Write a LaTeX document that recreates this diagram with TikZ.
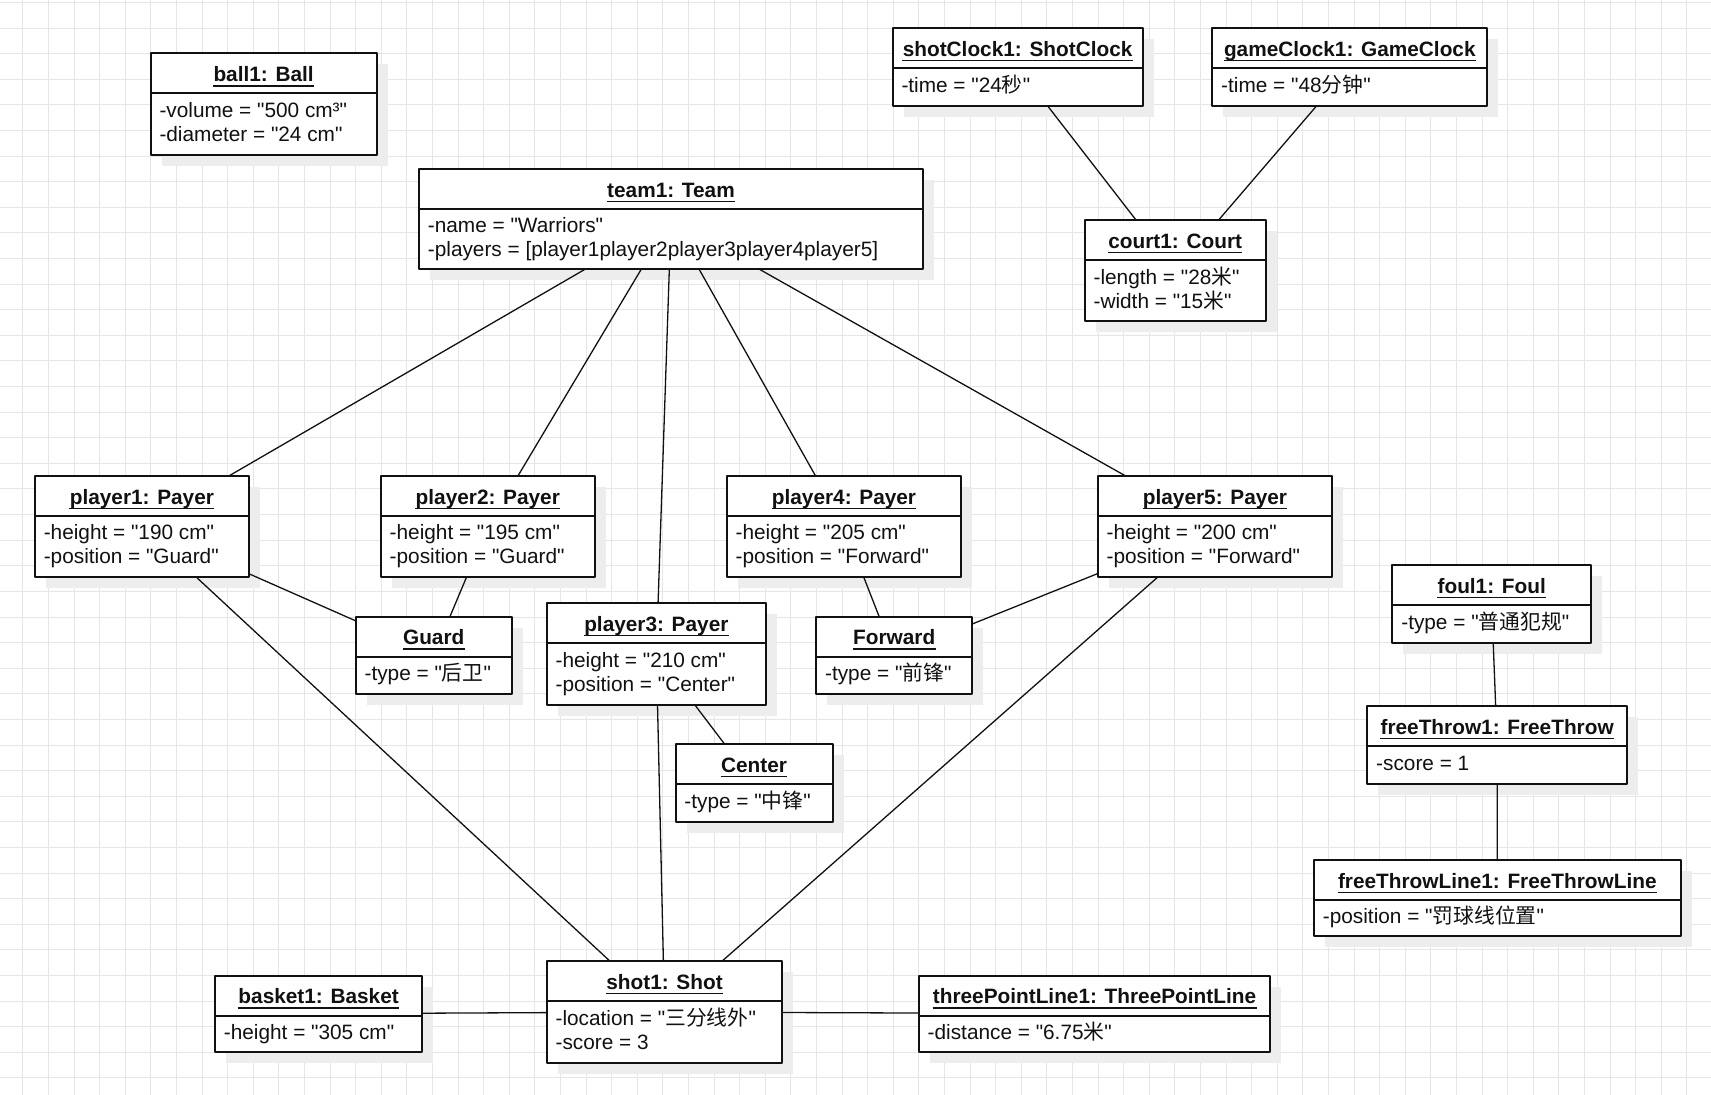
\documentclass[tikz,border=0pt]{standalone}
\usepackage{fontspec}
\setmainfont{Liberation Sans}[Ligatures=TeXOff]
\newfontfamily\cjk{Noto Sans CJK SC}
\usepackage{tikz}
\definecolor{ink}{HTML}{111111}
\definecolor{gridc}{HTML}{E6E6E6}
\definecolor{shadowc}{HTML}{EDEDED}
\tikzset{fig/.style={line join=round,x=0.5pt,y=-0.5pt},
  objbox/.style={draw=ink,fill=white,line width=1pt,inner sep=0pt,outer sep=0pt,anchor=north west},
  ttl/.style={font=\fontsize{10.4}{12}\selectfont\bfseries,text=ink,inner sep=0pt,anchor=base},
  att/.style={font=\fontsize{10.4}{12}\selectfont,text=ink,inner sep=0pt,anchor=base west},
  link/.style={draw=ink,line width=0.65pt},
  gridline/.style={gridc,line width=0.5pt}}
\newcommand{\umlobj}[8]{%
  \fill[shadowc] (#2+11,#3+11) rectangle ++(#4,#6);
  \node[objbox,minimum width=#4*0.5pt,minimum height=#6*0.5pt] (#1) at (#2,#3) {};
  \draw[ink,line width=1pt] (#1.north west) ++(0,#5) -- ++(#4,0);
  \path (#1.north) ++(0,28.4) node[ttl] (#1-t) {#7};
  \draw[ink,line width=0.65pt] ([yshift=-2pt]#1-t.base west) -- ([yshift=-2pt]#1-t.base east);
  \foreach \aline [count=\i] in {#8}
    \path (#1.north west) ++(8.5,{#5+24*\i}) node[att] {\aline};}

\begin{document}
\begin{tikzpicture}[fig]
  \fill[white] (0,0) rectangle (1711,1095);
  \useasboundingbox (0,0) rectangle (1711,1095);
  \foreach \gx in {0,...,65} \draw[gridline] ({22.8+25.6*\gx},0) -- ++(0,1095);
  \foreach \gy in {0,...,42} \draw[gridline] (0,{2.6+25.6*\gy}) -- ++(1711,0);

  \umlobj{ball1}{150.6}{53.5}{226}{40}{101.5}{ball1: Ball}{-volume = "500 cm³",-diameter = "24 cm"}
  \umlobj{team1}{419}{169}{504}{40}{100.5}{team1: Team}{-name = "Warriors",-players = [player1player2player3player4player5]}
  \umlobj{shotclock1}{892.6}{28.4}{250}{40}{77.5}{shotClock1: ShotClock}{-time = "24{\cjk 秒}"}
  \umlobj{gameclock1}{1212.3}{28.4}{275}{40}{77.5}{gameClock1: GameClock}{-time = "48{\cjk 分钟}"}
  \umlobj{court1}{1084.7}{220.4}{181}{40}{100.5}{court1: Court}{-length = "28{\cjk 米}",-width = "15{\cjk 米}"}
  \umlobj{player1}{34.9}{475.8}{214}{40}{101.5}{player1: Payer}{-height = "190 cm",-position = "Guard"}
  \umlobj{player2}{380.8}{475.8}{214}{40}{101.5}{player2: Payer}{-height = "195 cm",-position = "Guard"}
  \umlobj{player4}{726.7}{475.8}{234.6}{40}{101.5}{player4: Payer}{-height = "205 cm",-position = "Forward"}
  \umlobj{player5}{1097.7}{475.8}{234.6}{40}{101.5}{player5: Payer}{-height = "200 cm",-position = "Forward"}
  \umlobj{guardpos}{355.7}{616.5}{156}{40}{77.5}{Guard}{-type = "{\cjk 后卫}"}
  \umlobj{player3}{546.7}{603.4}{219.3}{40}{101.5}{player3: Payer}{-height = "210 cm",-position = "Center"}
  \umlobj{forwardpos}{816.2}{616.5}{156}{40}{77.5}{Forward}{-type = "{\cjk 前锋}"}
  \umlobj{centerpos}{675.5}{744.2}{157.1}{40}{77.5}{Center}{-type = "{\cjk 中锋}"}
  \umlobj{foul1}{1392.4}{565.2}{198.6}{40}{77.5}{foul1: Foul}{-type = "{\cjk 普通犯规}"}
  \umlobj{freethrow1}{1367.3}{706}{259.7}{40}{77.5}{freeThrow1: FreeThrow}{-score = 1}
  \umlobj{freethrowline1}{1314}{859.9}{366.6}{40}{76.4}{freeThrowLine1: FreeThrowLine}{-position = "{\cjk 罚球线位置}"}
  \umlobj{basket1}{215}{975.5}{207.3}{40}{76.4}{basket1: Basket}{-height = "305 cm"}
  \umlobj{shot1}{546.7}{961.3}{235.7}{40}{101.5}{shot1: Shot}{-location = "{\cjk 三分线外}",-score = 3}
  \umlobj{threepointline1}{918.8}{975.5}{351.4}{40}{76.4}{threePointLine1: ThreePointLine}{-distance = "6.75{\cjk 米}"}

  \foreach \p in {player1,player2,player3,player4,player5} \draw[link] (team1) -- (\p);
  \draw[link] (shotclock1) -- (court1);
  \draw[link] (gameclock1) -- (court1);
  \draw[link] (player1) -- (guardpos);
  \draw[link] (player2) -- (guardpos);
  \draw[link] (player4) -- (forwardpos);
  \draw[link] (player5) -- (forwardpos);
  \draw[link] (player3) -- (centerpos);
  \foreach \p in {player1,player3,player5} \draw[link] (\p) -- (shot1);
  \draw[link] (basket1) -- (shot1);
  \draw[link] (shot1) -- (threepointline1);
  \draw[link] (foul1) -- (freethrow1);
  \draw[link] (freethrow1) -- (freethrowline1);
\end{tikzpicture}
\end{document}
